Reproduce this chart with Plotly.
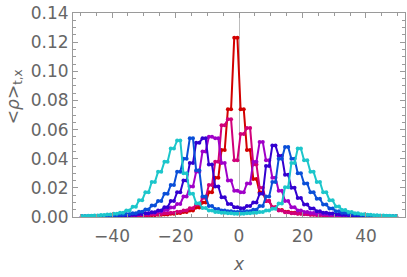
import numpy as np
import plotly.graph_objects as go

# pair centres (each value covers two neighbouring sites c-0.5, c+0.5)
centres = list(range(-49, 50, 2))

red = [0.0003, 0.0003, 0.0004, 0.0004, 0.0005, 0.0005, 0.0006, 0.0007, 0.0008, 0.0009,
       0.0011, 0.0013, 0.0015, 0.0018, 0.0022, 0.0027, 0.0034, 0.0045, 0.0065, 0.010,
       0.017, 0.027, 0.046, 0.074, 0.123, 0.074, 0.046, 0.026, 0.017, 0.011,
       0.0067, 0.0048, 0.0036, 0.0029, 0.0024, 0.0020, 0.0017, 0.0015, 0.0013, 0.0011,
       0.0010, 0.0009, 0.0008, 0.0007, 0.0006, 0.0005, 0.0005, 0.0004, 0.0004, 0.0003]

magenta = [0.0004, 0.0004, 0.0005, 0.0005, 0.0006, 0.0007, 0.0008, 0.0009, 0.0010, 0.0012,
           0.0014, 0.0017, 0.0020, 0.0025, 0.0030, 0.0036, 0.0045, 0.0060, 0.0085, 0.013,
           0.022, 0.038, 0.063, 0.067, 0.039, 0.057, 0.061, 0.036, 0.020, 0.011,
           0.0067, 0.0045, 0.0033, 0.0026, 0.0022, 0.0019, 0.0016, 0.0014, 0.0012, 0.0011,
           0.0010, 0.0009, 0.0008, 0.0007, 0.0006, 0.0006, 0.0005, 0.0005, 0.0004, 0.0004]

purple = [0.0004, 0.0005, 0.0005, 0.0006, 0.0008, 0.0009, 0.0011, 0.0013, 0.0016, 0.0020,
          0.0024, 0.0030, 0.0037, 0.0048, 0.0065, 0.009, 0.014, 0.021, 0.031, 0.045,
          0.055, 0.054, 0.037, 0.025, 0.018, 0.017, 0.023, 0.038, 0.0515, 0.039,
          0.027, 0.018, 0.011, 0.0067, 0.0045, 0.0035, 0.0028, 0.0023, 0.0019, 0.0016,
          0.0014, 0.0012, 0.0010, 0.0009, 0.0008, 0.0007, 0.0006, 0.0005, 0.0005, 0.0004]

indigo = [0.0004, 0.0004, 0.0005, 0.0006, 0.0007, 0.0009, 0.0011, 0.0013, 0.0016, 0.0020,
          0.0025, 0.0033, 0.0045, 0.0067, 0.011, 0.017, 0.025, 0.037, 0.051, 0.054,
          0.036, 0.021, 0.0136, 0.009, 0.0067, 0.006, 0.0075, 0.010, 0.016, 0.035,
          0.049, 0.042, 0.029, 0.020, 0.013, 0.0085, 0.0058, 0.0040, 0.0030, 0.0024,
          0.0019, 0.0016, 0.0013, 0.0011, 0.0009, 0.0008, 0.0006, 0.0005, 0.0004, 0.0004]

blue = [0.0005, 0.0006, 0.0007, 0.0008, 0.0010, 0.0013, 0.0016, 0.0020, 0.0026, 0.0036,
        0.0052, 0.0079, 0.011, 0.016, 0.022, 0.031, 0.040, 0.054, 0.032, 0.014,
        0.0075, 0.0055, 0.0045, 0.0040, 0.0035, 0.0035, 0.0040, 0.0050, 0.0075, 0.014,
        0.024, 0.040, 0.048, 0.040, 0.030, 0.023, 0.017, 0.0125, 0.0085, 0.0058,
        0.0040, 0.0030, 0.0023, 0.0018, 0.0014, 0.0011, 0.0009, 0.0007, 0.0006, 0.0005]

cyan = [0.0007, 0.0008, 0.0010, 0.0013, 0.0017, 0.0022, 0.0030, 0.0045, 0.0070, 0.0115,
        0.017, 0.024, 0.031, 0.038, 0.047, 0.0525, 0.030, 0.016, 0.0095, 0.0062,
        0.0045, 0.0035, 0.0030, 0.0025, 0.0022, 0.0022, 0.0025, 0.0030, 0.0035, 0.0045,
        0.0056, 0.0093, 0.0205, 0.037, 0.047, 0.039, 0.031, 0.024, 0.017, 0.0115,
        0.0072, 0.0048, 0.0034, 0.0025, 0.0019, 0.0015, 0.0012, 0.0010, 0.0008, 0.0007]

series = [
    ("red", red, "#d20000"),
    ("magenta", magenta, "#d0007a"),
    ("purple", purple, "#a000c8"),
    ("indigo", indigo, "#3300d0"),
    ("blue", blue, "#0a4fd8"),
    ("cyan", cyan, "#1cc6cb"),
]

sites = np.array([[c - 0.5, c + 0.5] for c in centres]).ravel()

fig = go.Figure()
for name, vals, col in series:
    fig.add_trace(go.Scatter(
        x=sites, y=np.repeat(vals, 2), mode="lines+markers", name=name,
        line=dict(color=col, width=2), marker=dict(color=col, size=4),
    ))

axis_col = "#9a9a9a"
font = dict(family="DejaVu Sans", size=17, color="#666666")
fig.update_layout(
    template="none",
    width=407, height=277,
    margin=dict(l=73, r=2, t=13, b=60),
    plot_bgcolor="white", paper_bgcolor="white",
    showlegend=False,
    xaxis=dict(range=[-52.3, 52.3], tickvals=[-40, -20, 0, 20, 40],
               ticks="inside", ticklen=5, tickcolor=axis_col, tickwidth=1,
               showline=True, linecolor=axis_col, linewidth=1, mirror="ticks",
               minor=dict(dtick=5, tick0=0, ticks="inside", ticklen=3, tickcolor=axis_col),
               showgrid=False, zeroline=True, zerolinecolor="#bdbdbd", zerolinewidth=1,
               tickfont=font, automargin=False, ticklabeloverflow="allow",
               ticklabelstandoff=4),
    yaxis=dict(range=[0, 0.14], dtick=0.02, tickformat=".2f",
               ticks="inside", ticklen=5, tickcolor=axis_col, tickwidth=1,
               showline=True, linecolor=axis_col, linewidth=1, mirror="ticks",
               minor=dict(dtick=0.005, ticks="inside", ticklen=3, tickcolor=axis_col),
               showgrid=False, zeroline=False, tickfont=font, automargin=False,
               ticklabeloverflow="allow"),
    annotations=[
        dict(text="&lt;<i>ρ</i>&gt;<sub>t,x</sub>", textangle=-90, showarrow=False,
             xref="paper", yref="paper", x=-0.178, y=0.592, xanchor="center", yanchor="middle",
             font=font),
        dict(text="<i>x</i>", showarrow=False, xref="paper", yref="paper",
             x=0.5, y=-0.2285, xanchor="center", yanchor="middle", font=font),
    ],
)

fig.write_html("out.html", config={"displayModeBar": False},
               post_script="document.body.style.margin='0';")
